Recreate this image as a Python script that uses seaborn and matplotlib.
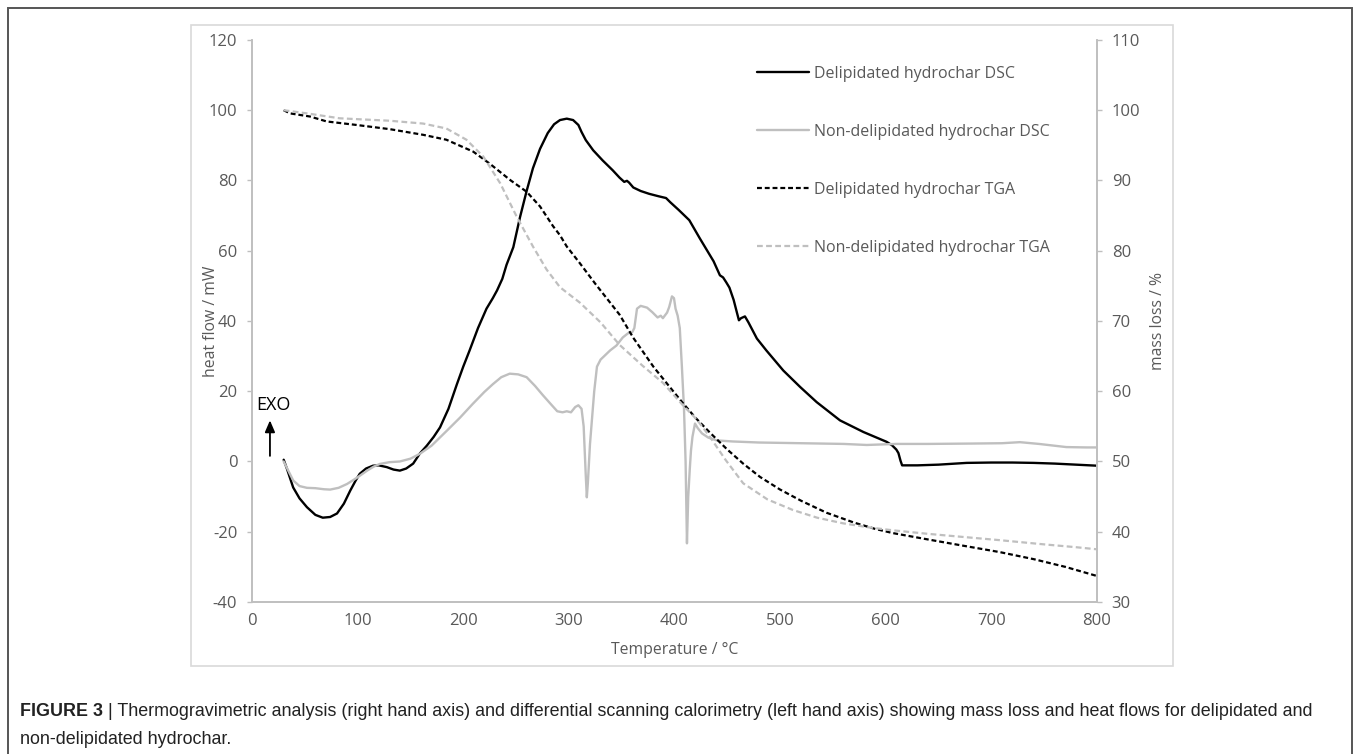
import matplotlib
matplotlib.use("Agg")
import matplotlib.pyplot as plt
import matplotlib.patches as patches
import seaborn as sns
import pandas as pd

# delipidated hydrochar DSC (heat flow, mW)
del_dsc_T = [30, 33, 39, 45, 52, 60, 67, 74, 80.5, 87, 93, 98, 102, 108, 114.6, 120, 127.6, 134, 140,
             146, 152.6, 159, 165.5, 172, 178, 186, 194, 200, 206, 214, 222, 228, 232, 237, 241, 247.4,
             253.7, 260, 266, 272.7, 280, 286, 291.6, 298, 304, 309, 312, 316, 323, 332, 341.5, 348,
             352.4, 355, 357, 361, 368, 376, 385, 392, 396, 404, 414, 424, 431, 437, 443, 446, 449, 452,
             456, 459, 461, 463, 466.7, 470, 478, 487, 503, 519, 534.6, 556.7, 578.8, 600.8, 606, 610,
             612, 614, 615.5, 630, 650, 676.6, 700, 720, 740, 760, 780, 800]
del_dsc = [0.5, -2, -7.4, -10.5, -13, -15.2, -16, -15.8, -14.8, -12, -8.3, -5.5, -3.5, -2, -1.2, -1.1,
           -1.6, -2.3, -2.6, -2, -0.6, 2.3, 4.5, 7, 9.7, 15, 22, 27, 31.6, 38, 43.5, 46.5, 48.7, 52, 56,
           61, 69.5, 77, 83.5, 89, 93.5, 96, 97.2, 97.6, 97.2, 95.8, 93.8, 91.5, 88.6, 85.7, 82.9, 80.8,
           79.6, 79.9, 79.4, 78, 77, 76.2, 75.5, 75, 73.8, 71.6, 68.7, 63.5, 60, 57, 53, 52.4, 51, 49.5,
           46, 42.5, 40.2, 40.8, 41.3, 39.6, 35, 31.6, 25.9, 21.2, 16.9, 11.7, 8.4, 5.6, 4.6, 3.4, 2.4,
           0.2, -1.1, -1.1, -0.9, -0.4, -0.3, -0.3, -0.4, -0.6, -0.9, -1.2]

# non-delipidated hydrochar DSC
non_dsc_T = [30, 35, 39, 45, 52, 60, 68, 74, 82, 90, 100, 109, 115, 121, 130, 140, 150, 159, 170, 184.6,
             197, 209, 220, 228, 236, 244, 252, 260, 268, 275.6, 283, 289, 294, 298, 302, 306, 309, 312,
             314, 316, 317, 318, 320, 322, 324, 326.6, 330, 339, 345, 351, 356, 360, 362, 364.5, 368,
             374, 379, 384, 387, 389, 393, 395, 397.6, 399.5, 401, 403, 405, 407, 409, 410.5, 411.8,
             413, 414.5, 415.6, 417, 419.4, 422, 426, 432, 440, 455, 480, 520, 560, 582, 610, 640, 680,
             710, 727, 745, 771, 790, 800]
non_dsc = [0, -3, -5.4, -7, -7.5, -7.6, -7.9, -8, -7.5, -6.4, -4.5, -2.6, -1.5, -0.7, -0.2, 0, 0.8, 2.2,
           4.5, 8.8, 12.5, 16.4, 19.8, 22, 24, 25, 24.8, 24, 21.5, 18.8, 16.3, 14.3, 14, 14.3, 14, 15.5,
           16, 15, 10, -4, -10.2, -6, 5, 12.5, 20, 27, 29, 31.6, 33, 35.3, 36.5, 36.8, 38, 43.5, 44.3,
           43.8, 42.5, 41, 41.5, 40.8, 42.4, 44, 47, 46.5, 43.5, 41.5, 38, 27, 15, 0, -23.3, -10, -2,
           3.1, 7, 10.8, 9.5, 8, 6.8, 6, 5.7, 5.4, 5.2, 5.0, 4.7, 5.0, 5.0, 5.1, 5.2, 5.5, 5.0, 4.1,
           4.0, 4.0]

# delipidated hydrochar TGA (mass, %)
del_tga_T = [30, 36, 55, 70.7, 99, 130.6, 162, 184, 209.5, 225, 245, 260, 272.7, 285, 291.6, 298, 310,
             325, 348, 361, 380, 395, 408, 420, 433.6, 450, 465, 481, 500, 520, 544, 570, 590, 607, 640,
             670, 708, 740, 770, 800]
del_tga = [100, 99.55, 99.1, 98.4, 97.9, 97.3, 96.5, 95.8, 94.1, 92.4, 90, 88.4, 86.3, 83.5, 82.2, 80.6,
           78.3, 75.3, 70.9, 67.6, 63.5, 60.7, 58.3, 56.2, 54.1, 51.7, 49.7, 47.8, 46, 44.4, 42.7, 41.3,
           40.4, 39.8, 38.9, 38.1, 37.1, 36.1, 35, 33.7]

# non-delipidated hydrochar TGA
non_tga_T = [30, 52, 83, 130.6, 162, 184, 203, 219, 235, 250.6, 266, 279, 291.6, 310.5, 330, 348, 370,
             389, 408, 421, 433.6, 448, 465, 488, 512, 535, 559.5, 585, 607, 640, 670, 708, 750, 780, 800]
non_tga = [100, 99.55, 98.85, 98.5, 98.1, 97.4, 95.8, 93.4, 89.6, 84.85, 80.6, 77.3, 74.8, 72.6, 69.8,
           66.6, 63.6, 61.2, 58, 56, 53.5, 50.3, 46.9, 44.6, 43.1, 42, 41.2, 40.6, 40.2, 39.7, 39.3, 38.8,
           38.2, 37.8, 37.5]

x_ticks = list(range(0, 801, 100))
left_ticks = list(range(-40, 121, 20))
right_ticks = list(range(30, 111, 10))

grey = "#bfbfbf"
txt = "#595959"

sns.set_style("white")
plt.rcParams["font.family"] = ["Open Sans", "DejaVu Sans"]
plt.rcParams["axes.unicode_minus"] = False

fig = plt.figure(figsize=(13.57, 7.54), dpi=100)
ax = fig.add_axes([0.1857, 0.2016, 0.6227, 0.7454])
ax2 = ax.twinx()

sns.lineplot(x=del_dsc_T, y=del_dsc, ax=ax, color="black", lw=1.7, label="Delipidated hydrochar DSC", legend=False)
sns.lineplot(x=non_dsc_T, y=non_dsc, ax=ax, color=grey, lw=1.7, label="Non-delipidated hydrochar DSC", legend=False)
sns.lineplot(x=del_tga_T, y=del_tga, ax=ax2, color="black", lw=1.6, linestyle=(0, (2.2, 1.3)),
             label="Delipidated hydrochar TGA", legend=False)
sns.lineplot(x=non_tga_T, y=non_tga, ax=ax2, color=grey, lw=1.6, linestyle=(0, (2.6, 1.5)),
             label="Non-delipidated hydrochar TGA", legend=False)

ax.set_xlim(0, 800)
ax.set_ylim(-40, 120)
ax2.set_ylim(30, 110)
ax.set_xticks(x_ticks)
ax.set_yticks(left_ticks)
ax2.set_yticks(right_ticks)

for a in (ax, ax2):
    for s in a.spines.values():
        s.set_color(grey)
        s.set_linewidth(1.2)
    a.spines["top"].set_visible(False)
    a.tick_params(colors=txt, labelsize=12, pad=7)
    a.tick_params(axis="y", direction="out", length=3.6, width=1, color=grey)
    a.tick_params(axis="x", length=0, pad=8)
    a.grid(False)

ax.set_xlabel("Temperature / °C", fontsize=11.3, color=txt)
ax.set_ylabel("heat flow / mW", fontsize=11.3, color=txt)
ax2.set_ylabel("mass loss / %", fontsize=11.3, color=txt)
ax.yaxis.label.set_va("center")
ax2.yaxis.label.set_va("center")
ax.yaxis.set_label_coords(-0.049, 0.5)
ax2.yaxis.set_label_coords(1.072, 0.5)
ax.xaxis.label.set_va("center")
ax.xaxis.set_label_coords(0.5, -0.085)

# EXO marker
ax.annotate("", xy=(17, 12.5), xytext=(17, 0.8),
            arrowprops=dict(arrowstyle="-|>,head_length=0.7,head_width=0.3", color="black", lw=1.3))
ax.text(20, 16, "EXO", fontsize=13, color="black", ha="center", va="center")

handles = ax.get_lines() + ax2.get_lines()
labels = [h.get_label() for h in handles]
leg = ax2.legend(handles, labels, loc="upper left", bbox_to_anchor=(0.5578, 0.913),
                 bbox_transform=fig.transFigure, frameon=False, fontsize=11.5,
                 handlelength=3.25, handletextpad=0.35, labelspacing=2.63,
                 borderpad=0, borderaxespad=0)
for t in leg.get_texts():
    t.set_color(txt)

# chart frame and page frame
fig.patches.append(patches.Rectangle((191 / 1357, 1 - 666 / 754), (1173 - 191) / 1357, (666 - 25) / 754,
                                     transform=fig.transFigure, fill=False, ec="#d9d9d9", lw=1.2))
fig.patches.append(patches.Rectangle((8 / 1357, -0.02), (1352 - 8) / 1357, 1.02 - 8 / 754,
                                     transform=fig.transFigure, fill=False, ec="#555555", lw=1.4))

# caption
cap_font = dict(family=["Liberation Sans", "DejaVu Sans"], fontsize=12.9, color="#222222")
b = fig.text(20 / 1357, 1 - 716 / 754, "FIGURE 3", fontweight="bold", va="baseline", **cap_font)
fig.canvas.draw()
bb = b.get_window_extent(renderer=fig.canvas.get_renderer())
fig.text(bb.x1 / 1357, 1 - 716 / 754,
         " | Thermogravimetric analysis (right hand axis) and differential scanning calorimetry (left hand axis) "
         "showing mass loss and heat flows for delipidated and", va="baseline", **cap_font)
fig.text(20 / 1357, 1 - 744 / 754, "non-delipidated hydrochar.", va="baseline", **cap_font)

fig.savefig("out.png", dpi=100)
